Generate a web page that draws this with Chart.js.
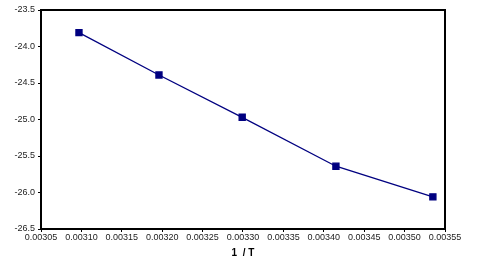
<!DOCTYPE html>
<html>
<head>
<meta charset="utf-8">
<script src="https://cdn.jsdelivr.net/npm/chart.js@4"></script>
<style>
  html, body { margin: 0; padding: 0; background: #fff; }
  #wrap { width: 489px; height: 269px; }
</style>
</head>
<body>
<div id="wrap"><canvas id="chart"></canvas></div>
<script>
// data
const invT = [0.003097, 0.003196, 0.003299, 0.003415, 0.003535];
const lnK = [-23.81, -24.39, -24.97, -25.64, -26.06];
const xTicks = [0.00305, 0.00310, 0.00315, 0.00320, 0.00325, 0.00330, 0.00335, 0.00340, 0.00345, 0.00350, 0.00355];
const yTicks = [-23.5, -24.0, -24.5, -25.0, -25.5, -26.0, -26.5];

const navy = '#000080';
const tickFont = { family: 'Liberation Sans, Arial', size: 9 };

// top + right frame of the plot area
const frame = {
  id: 'frame',
  afterDraw(chart) {
    const a = chart.chartArea;
    const ctx = chart.ctx;
    ctx.save();
    ctx.strokeStyle = '#000';
    ctx.lineWidth = 2;
    ctx.beginPath();
    ctx.moveTo(a.left, a.top);
    ctx.lineTo(a.right, a.top);
    ctx.lineTo(a.right, a.bottom);
    ctx.stroke();
    ctx.restore();
  }
};

new Chart(document.getElementById('chart'), {
  type: 'scatter',
  data: {
    datasets: [{
      data: invT.map((x, i) => ({ x: x, y: lnK[i] })),
      showLine: true,
      borderColor: navy,
      borderWidth: 1.3,
      backgroundColor: navy,
      pointStyle: 'rect',
      pointRadius: 4.3,
      pointHoverRadius: 4.3
    }]
  },
  options: {
    responsive: true,
    maintainAspectRatio: false,
    animation: false,
    layout: { padding: { left: 0, top: 10, right: 44, bottom: 0 } },
    plugins: { legend: { display: false }, tooltip: { enabled: false } },
    scales: {
      x: {
        type: 'linear',
        min: xTicks[0],
        max: xTicks[xTicks.length - 1],
        afterBuildTicks(axis) { axis.ticks = xTicks.map(v => ({ value: v })); },
        afterFit(axis) { axis.height = 40; },
        grid: { drawOnChartArea: false, drawTicks: true, tickLength: 3, color: '#000' },
        border: { color: '#000', width: 2 },
        ticks: {
          color: '#222',
          font: tickFont,
          padding: 0,
          maxRotation: 0,
          autoSkip: false,
          callback: v => v.toFixed(5)
        },
        title: {
          display: true,
          text: '1  / T',
          color: '#000',
          font: { family: 'Liberation Sans, Arial', size: 10, weight: 'bold' },
          padding: { top: 4, bottom: 10 }
        }
      },
      y: {
        type: 'linear',
        min: yTicks[yTicks.length - 1],
        max: yTicks[0],
        afterBuildTicks(axis) { axis.ticks = yTicks.map(v => ({ value: v })); },
        afterFit(axis) { axis.width = 41; },
        grid: { drawOnChartArea: false, drawTicks: true, tickLength: 3, color: '#000' },
        border: { color: '#000', width: 2 },
        ticks: {
          color: '#222',
          font: tickFont,
          padding: 3,
          callback: v => v.toFixed(1)
        }
      }
    }
  },
  plugins: [frame]
});
</script>
</body>
</html>
